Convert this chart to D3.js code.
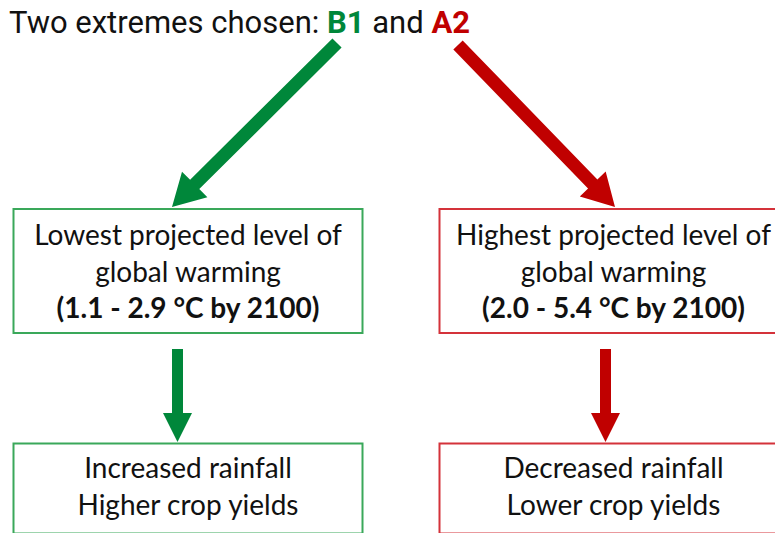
<!DOCTYPE html>
<html><head><meta charset="utf-8">
<script src="https://cdn.jsdelivr.net/npm/d3@7"></script>
<style>body{margin:0;background:#fff}svg{display:block}</style>
</head><body>
<script>
// ---- content ----
const titleParts = [
  {text: "Two extremes chosen: ", key: "plain"},
  {text: "B1", key: "B1"},
  {text: " and ", key: "plain"},
  {text: "A2", key: "A2"}
];
const scenarios = ["B1", "A2"];
const warmingLines = {
  B1: ["Lowest projected level of", "global warming", "(1.1 - 2.9 °C by 2100)"],
  A2: ["Highest projected level of", "global warming", "(2.0 - 5.4 °C by 2100)"]
};
const outcomeLines = {
  B1: ["Increased rainfall", "Higher crop yields"],
  A2: ["Decreased rainfall", "Lower crop yields"]
};

// ---- styles / layout ----
const W = 775, H = 533;
const arrowColor = {B1: "#00873a", A2: "#c00000", plain: "#111"};
const borderColor = {B1: "#3aa85a", A2: "#d4323a"};
const boxX = d3.scaleOrdinal().domain(scenarios).range([13.5, 439.5]);
const boxW = {B1: 349, A2: 348};
const topBox = {y: 209, h: 124};
const botBox = {y: 443.5, h: 90};
const diag = {
  B1: {from: [337, 43], to: [172, 207]},
  A2: {from: [458, 45], to: [615, 207]}
};
const vert = {B1: {x: 177.5}, A2: {x: 605.5}, y0: 349, y1: 442};

const svg = d3.select("body").append("svg").attr("width", W).attr("height", H);

// title
const title = svg.append("text").attr("x", 9).attr("y", 33)
  .style("font-family", "Roboto").style("font-size", "31px");
title.selectAll("tspan").data(titleParts).join("tspan")
  .text(d => d.text)
  .attr("fill", d => arrowColor[d.key])
  .style("font-weight", d => d.key === "plain" ? 400 : 700);

// arrow polygon
function arrowPath(p0, p1, shaft, headW, headL) {
  const dx = p1[0] - p0[0], dy = p1[1] - p0[1];
  const L = Math.hypot(dx, dy);
  const ux = dx / L, uy = dy / L, nx = -uy, ny = ux;
  const b = [p1[0] - ux * headL, p1[1] - uy * headL];
  const s = shaft / 2, h = headW / 2;
  const pts = [
    [p0[0] + nx * s, p0[1] + ny * s],
    [b[0] + nx * s, b[1] + ny * s],
    [b[0] + nx * h, b[1] + ny * h],
    p1,
    [b[0] - nx * h, b[1] - ny * h],
    [b[0] - nx * s, b[1] - ny * s],
    [p0[0] - nx * s, p0[1] - ny * s]
  ];
  return d3.line()(pts) + "Z";
}

svg.selectAll("path.diag").data(scenarios).join("path").attr("class", "diag")
  .attr("d", k => arrowPath(diag[k].from, diag[k].to, 13, 36, 32))
  .attr("fill", k => arrowColor[k]);

svg.selectAll("path.vert").data(scenarios).join("path").attr("class", "vert")
  .attr("d", k => arrowPath([vert[k].x, vert.y0], [vert[k].x, vert.y1], 11, 29, 29))
  .attr("fill", k => arrowColor[k]);

// boxes
const fontFam = "Lato, 'Open Sans', sans-serif";
function drawBoxes(cls, box, lines, y0, dy, boldLast) {
  const g = svg.selectAll("g." + cls).data(scenarios).join("g").attr("class", cls);
  g.append("rect")
    .attr("x", k => boxX(k)).attr("y", box.y)
    .attr("width", k => boxW[k]).attr("height", box.h)
    .attr("fill", "#fff").attr("stroke", k => borderColor[k]).attr("stroke-width", 2);
  g.each(function(k) {
    const cx = boxX(k) + (k === "B1" ? boxW[k] / 2 : 174);
    d3.select(this).selectAll("text").data(lines[k]).join("text")
      .attr("x", cx).attr("y", (d, i) => y0 + i * dy)
      .attr("text-anchor", "middle")
      .style("font-family", fontFam).style("font-size", "28px").attr("fill", "#111")
      .style("font-weight", (d, i) => boldLast && i === lines[k].length - 1 ? 700 : 400)
      .text(d => d);
  });
}
drawBoxes("top", topBox, warmingLines, 245, 36.5, true);
drawBoxes("bot", botBox, outcomeLines, 478, 37, false);
</script>
</body></html>
